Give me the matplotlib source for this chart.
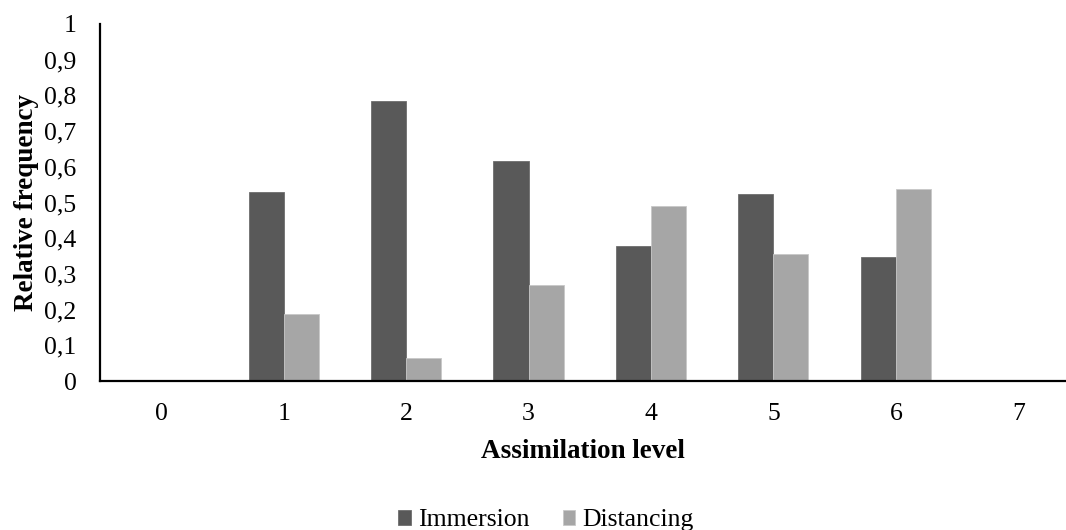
import matplotlib.pyplot as plt
import numpy as np
from matplotlib.ticker import FuncFormatter

# assimilation levels and relative frequencies per condition
levels = [0, 1, 2, 3, 4, 5, 6, 7]
immersion = [0, 0.529, 0.785, 0.616, 0.377, 0.524, 0.348, 0]
distancing = [0, 0.187, 0.065, 0.269, 0.491, 0.357, 0.538, 0]

plt.rcParams['font.family'] = ['Liberation Serif', 'DejaVu Serif']

fig = plt.figure(figsize=(10.66, 5.30), dpi=100)
ax = fig.add_axes([0.0938, 0.281, 0.9062, 0.674])

x = np.arange(len(levels))
w = 0.286
ax.bar(x - w / 2, immersion, w, color='#595959', edgecolor='#6e6e6e', linewidth=0.6, label='Immersion')
ax.bar(x + w / 2, distancing, w, color='#a6a6a6', edgecolor='#c8c8c8', linewidth=0.6, label='Distancing')


def comma_fmt(v, pos):
    if abs(v) < 1e-9 or abs(v - 1) < 1e-9:
        return str(int(round(v)))
    return f'{v:.1f}'.replace('.', ',')


ax.set_xlim(-0.5, 7.39)
ax.set_ylim(0, 1)
ax.set_xticks(x)
ax.set_xticklabels([str(l) for l in levels])
ax.set_yticks(np.arange(0, 1.01, 0.1))
ax.yaxis.set_major_formatter(FuncFormatter(comma_fmt))
ax.tick_params(axis='both', length=0, labelsize=18.5, colors='black')
ax.tick_params(axis='x', pad=16)
ax.tick_params(axis='y', pad=17)

for s in ['top', 'right']:
    ax.spines[s].set_visible(False)
for s in ['left', 'bottom']:
    ax.spines[s].set_linewidth(1.6)
    ax.spines[s].set_color('black')

ax.set_xlabel('Assimilation level', fontsize=19.5, fontweight='bold', labelpad=10)
ax.set_ylabel('Relative frequency', fontsize=19.5, fontweight='bold', labelpad=4)

fig.legend(loc='center', bbox_to_anchor=(0.512, 0.018), ncol=2, frameon=False, fontsize=18.5,
           handlelength=0.5, handleheight=0.5, handletextpad=0.25, columnspacing=1.3)

fig.savefig('out.png', dpi=100)
